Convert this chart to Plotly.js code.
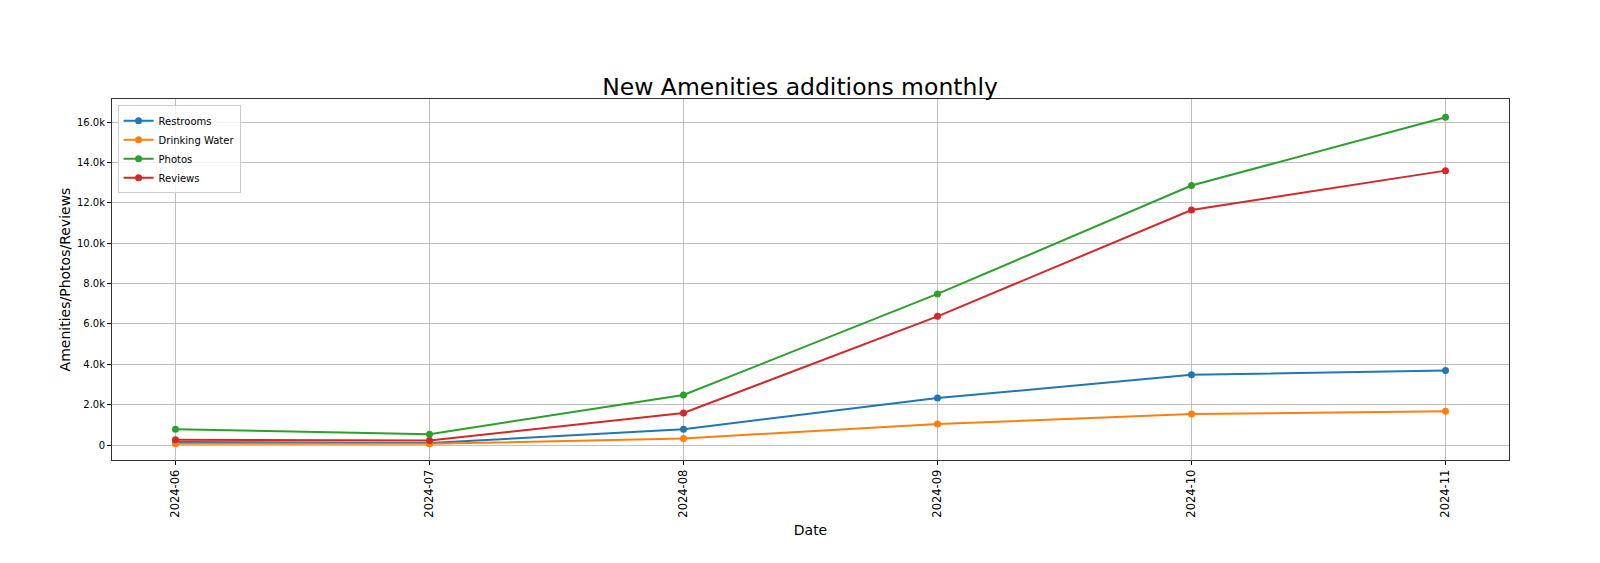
<!DOCTYPE html>
<html>
<head>
<meta charset="utf-8">
<script src="https://cdn.plot.ly/plotly-3.0.1.min.js"></script>
<style>html,body{margin:0;padding:0;background:#fff;}#chart{width:1600px;height:563px;}</style>
</head>
<body>
<div id="chart"></div>
<script>
const months = ["2024-06", "2024-07", "2024-08", "2024-09", "2024-10", "2024-11"];
const restrooms = [150, 100, 790, 2330, 3480, 3700];
const drinkingWater = [70, 60, 330, 1040, 1540, 1670];
const photos = [790, 540, 2480, 7490, 12860, 16250];
const reviews = [260, 230, 1590, 6380, 11650, 13600];
const yTickVals = [0, 2000, 4000, 6000, 8000, 10000, 12000, 14000, 16000];
const yTickText = ["0", "2.0k", "4.0k", "6.0k", "8.0k", "10.0k", "12.0k", "14.0k", "16.0k"];

const seriesNames = ["Restrooms", "Drinking Water", "Photos", "Reviews"];
const seriesData = [restrooms, drinkingWater, photos, reviews];
const colors = ["#1f77b4", "#ff7f0e", "#2ca02c", "#d62728"];

const traces = seriesNames.map((n, i) => ({
  x: months,
  y: seriesData[i],
  name: n,
  type: "scatter",
  mode: "lines+markers",
  line: {color: colors[i], width: 2},
  marker: {color: colors[i], size: 7}
}));

const font = "DejaVu Sans, sans-serif";
const layout = {
  width: 1600, height: 563,
  margin: {l: 112, r: 91, t: 99, b: 103, pad: 0},
  paper_bgcolor: "#fff", plot_bgcolor: "#fff",
  font: {family: font, color: "#000", size: 10},
  title: {text: "New Amenities additions monthly", font: {family: font, size: 23.5, color: "#000"},
          x: 0.5, xanchor: "center", y: 1, yref: "paper", yanchor: "bottom", pad: {b: 4}},
  showlegend: true,
  legend: {x: 0.004, y: 0.983, xanchor: "left", yanchor: "top",
           bgcolor: "rgba(255,255,255,0.8)", bordercolor: "#cccccc", borderwidth: 1,
           font: {family: font, size: 10, color: "#000"}, tracegroupgap: 0},
  xaxis: {
    type: "category", range: [-0.25, 5.25],
    title: {text: "Date", font: {family: font, size: 14, color: "#000"}, standoff: 8},
    tickangle: -90, tickfont: {family: font, size: 11.5, color: "#000"},
    ticks: "outside", ticklen: 4, tickcolor: "#000", tickwidth: 1,
    showgrid: true, gridcolor: "#b0b0b0", gridwidth: 0.8,
    showline: true, linecolor: "#333", linewidth: 1, mirror: true,
    zeroline: false
  },
  yaxis: {
    range: [-740, 17150],
    tickvals: yTickVals, ticktext: yTickText,
    title: {text: "Amenities/Photos/Reviews", font: {family: font, size: 14, color: "#000"}, standoff: 3},
    tickfont: {family: font, size: 10, color: "#000"},
    ticks: "outside", ticklen: 4, tickcolor: "#000", tickwidth: 1,
    showgrid: true, gridcolor: "#b0b0b0", gridwidth: 0.8,
    showline: true, linecolor: "#333", linewidth: 1, mirror: true,
    zeroline: false
  }
};

Plotly.newPlot("chart", traces, layout, {displayModeBar: false, staticPlot: true});
</script>
</body>
</html>
